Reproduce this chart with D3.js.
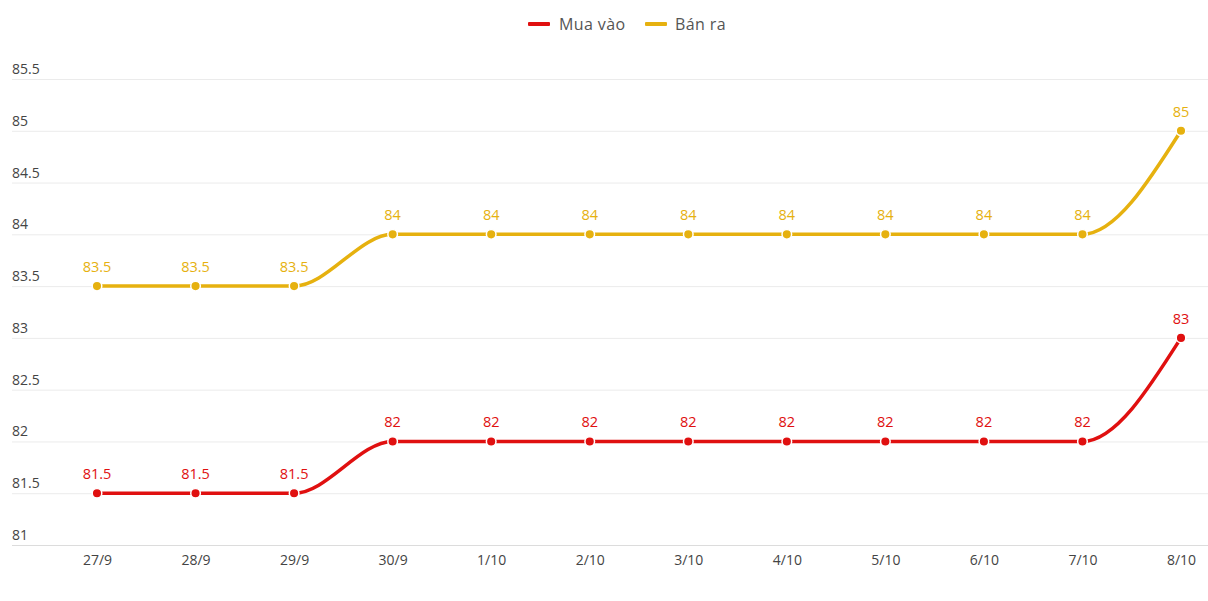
<!DOCTYPE html>
<html><head><meta charset="utf-8">
<script src="https://cdn.jsdelivr.net/npm/d3@7"></script>
<style>body{margin:0;background:#fff;}svg{display:block;font-family:"Open Sans","Noto Sans",sans-serif;}</style>
</head><body><svg id="c" width="1208" height="601"></svg>
<script>
const categories = ["27/9","28/9","29/9","30/9","1/10","2/10","3/10","4/10","5/10","6/10","7/10","8/10"];
const muaVao = [81.5,81.5,81.5,82,82,82,82,82,82,82,82,83];
const banRa = [83.5,83.5,83.5,84,84,84,84,84,84,84,84,85];
const yTicks = [81,81.5,82,82.5,83,83.5,84,84.5,85,85.5];
const series = [
  {name:"Mua vào", values:muaVao, color:"#e01010"},
  {name:"Bán ra", values:banRa, color:"#e6b10f"}
];
const svg = d3.select("#c");
const W=1208,H=601;
const x = d3.scalePoint().domain(categories).range([97,1181]);
const y = d3.scaleLinear().domain([81,85.5]).range([545,79]);
// grid
const g = svg.append("g");
g.selectAll("line.grid").data(yTicks).join("line")
  .attr("x1",12).attr("x2",W).attr("y1",d=>y(d)+0.5).attr("y2",d=>y(d)+0.5)
  .attr("stroke",d=>d===81?"#dcdcdc":"#ebebeb").attr("stroke-width",1);
g.selectAll("text.yl").data(yTicks).join("text")
  .attr("x",12).attr("y",d=>y(d)-5).attr("font-size",14).attr("fill","#444")
  .text(d=>d);
// x labels
const xa = svg.append("g").attr("transform",`translate(0,${545})`)
  .call(d3.axisBottom(x).tickSize(0).tickPadding(10));
xa.select(".domain").remove();
xa.selectAll("text").attr("font-size",14).attr("fill","#444").attr("font-family","'Open Sans','Noto Sans',sans-serif");
// lines
const line = d3.line().x((d,i)=>x(categories[i])).y(d=>y(d)).curve(d3.curveMonotoneX);
series.forEach(s=>{
  svg.append("path").attr("d",line(s.values)).attr("fill","none")
    .attr("stroke",s.color).attr("stroke-width",3.5);
  svg.append("g").selectAll("circle").data(s.values).join("circle")
    .attr("cx",(d,i)=>x(categories[i])).attr("cy",d=>y(d)).attr("r",4.8)
    .attr("fill",s.color).attr("stroke","#fff").attr("stroke-width",1.5);
  svg.append("g").selectAll("text").data(s.values).join("text")
    .attr("x",(d,i)=>x(categories[i])).attr("y",d=>y(d)-14)
    .attr("text-anchor","middle").attr("font-size",14.5).attr("fill",s.color)
    .text(d=>d);
});
// legend
const leg = svg.append("g");
const items = [{x:528,tx:559},{x:645,tx:675}];
series.forEach((s,i)=>{
  leg.append("rect").attr("x",items[i].x).attr("y",22).attr("width",22).attr("height",4).attr("rx",1).attr("fill",s.color);
  leg.append("text").attr("x",items[i].tx).attr("y",30).attr("font-size",16).attr("letter-spacing",0.4).attr("fill","#555").text(s.name);
});
</script></body></html>
